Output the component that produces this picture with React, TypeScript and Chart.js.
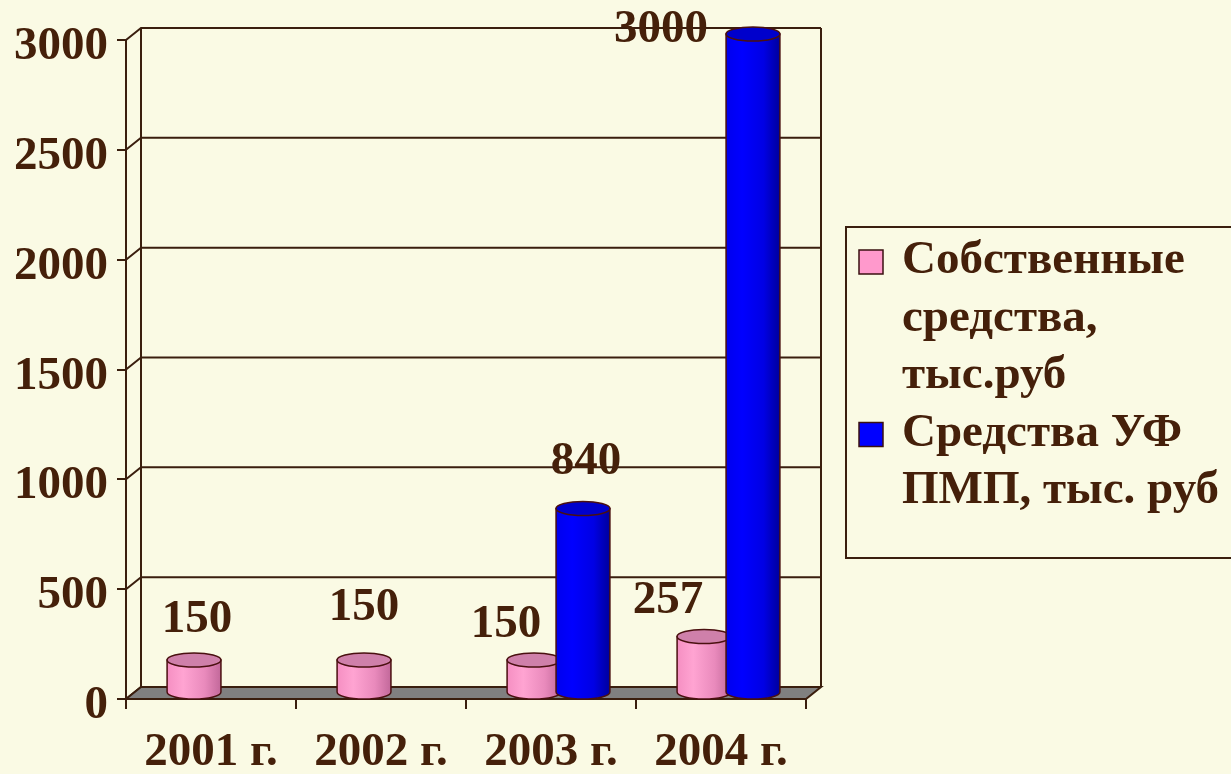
import React, { useEffect, useRef } from 'react';
import { Chart, registerables } from 'chart.js';

Chart.register(...registerables);

// ---------- data ----------
const categories = ['2001 г.', '2002 г.', '2003 г.', '2004 г.'];
const ownFunds: (number | null)[] = [150, 150, 150, 257];
const ufFunds: (number | null)[] = [null, null, 840, 3000];
const seriesNames = ['Собственные средства, тыс.руб', 'Средства УФ ПМП, тыс. руб'];
const legendLines = [
  ['Собственные', 'средства,', 'тыс.руб'],
  ['Средства УФ', 'ПМП, тыс. руб'],
];
const yMin = 0;
const yMax = 3000;
const yStep = 500;

// ---------- style ----------
const BG = '#FAFAE4';
const INK = '#45200A';
const LINE = '#3A1E0E';
const FONT_FAMILY = '"Liberation Serif", "Times New Roman", serif';
const FONT_SIZE = 47;
const DX = 15; // 3D depth offset
const DY = -12;
const seriesStyles = [
  { base: '#FF99CC', stops: ['#F58FC2', '#FFA4D2', '#E98ABC', '#C2689A'], cap: '#CF80AA' },
  { base: '#0000FF', stops: ['#0000EE', '#0000FF', '#0000E4', '#00009C'], cap: '#0000CC' },
];
// label placement relative to bar top (dx, baseline dy)
const labelOffsets = [
  [[3, -28], [0, -40], [-28, -23], [-36, -24]],
  [[0, 0], [0, 0], [3, -34], [-92, 8]],
];

function drawCylinder(ctx: CanvasRenderingContext2D, x: number, top: number, base: number, w: number, st: any) {
  const rx = w / 2;
  const ry = 7;
  const g = ctx.createLinearGradient(x - rx, 0, x + rx, 0);
  g.addColorStop(0, st.stops[0]);
  g.addColorStop(0.3, st.stops[1]);
  g.addColorStop(0.7, st.stops[2]);
  g.addColorStop(1, st.stops[3]);
  ctx.save();
  ctx.lineWidth = 1.5;
  ctx.strokeStyle = '#4A1010';
  ctx.beginPath();
  ctx.moveTo(x - rx, top);
  ctx.lineTo(x - rx, base);
  ctx.ellipse(x, base, rx, ry, 0, Math.PI, 0, true);
  ctx.lineTo(x + rx, top);
  ctx.closePath();
  ctx.fillStyle = g;
  ctx.fill();
  ctx.stroke();
  ctx.beginPath();
  ctx.ellipse(x, top, rx, ry, 0, 0, Math.PI * 2);
  ctx.fillStyle = st.cap;
  ctx.fill();
  ctx.stroke();
  ctx.restore();
}

const threeDPlugin = {
  id: 'threeD',
  beforeDraw(chart: any) {
    const ctx = chart.ctx;
    ctx.save();
    ctx.fillStyle = BG;
    ctx.fillRect(0, 0, chart.width, chart.height);
    ctx.restore();
  },
  beforeDatasetsDraw(chart: any) {
    const ctx = chart.ctx;
    const { left, right, bottom } = chart.chartArea;
    const ys = chart.scales.y;
    ctx.save();
    ctx.strokeStyle = LINE;
    ctx.lineWidth = 2;
    const yTop = ys.getPixelForValue(yMax);
    for (let v = yMin; v <= yMax; v += yStep) {
      const y = ys.getPixelForValue(v);
      ctx.beginPath();
      ctx.moveTo(left, y);
      ctx.lineTo(left + DX, y + DY);
      ctx.lineTo(right + DX, y + DY);
      ctx.stroke();
    }
    ctx.beginPath();
    ctx.moveTo(left + DX, yTop + DY);
    ctx.lineTo(left + DX, bottom + DY);
    ctx.moveTo(right + DX, yTop + DY);
    ctx.lineTo(right + DX, bottom + DY);
    ctx.stroke();
    // floor
    ctx.beginPath();
    ctx.moveTo(left, bottom);
    ctx.lineTo(right, bottom);
    ctx.lineTo(right + DX, bottom + DY);
    ctx.lineTo(left + DX, bottom + DY);
    ctx.closePath();
    ctx.fillStyle = '#808080';
    ctx.fill();
    ctx.stroke();
    ctx.restore();
    // shift bars to mid-depth
    ctx.save();
    ctx.translate(DX / 2, DY / 2);
  },
  afterDatasetsDraw(chart: any) {
    const ctx = chart.ctx;
    for (let d = 0; d < chart.data.datasets.length; d++) {
      const meta = chart.getDatasetMeta(d);
      meta.data.forEach((el: any, i: number) => {
        const v = chart.data.datasets[d].data[i];
        if (v === null || v === undefined) return;
        const p = el.getProps(['x', 'y', 'base', 'width'], true);
        drawCylinder(ctx, p.x, p.y, p.base, p.width, seriesStyles[d]);
      });
    }
    ctx.restore();
    // value labels
    ctx.save();
    ctx.font = `bold ${FONT_SIZE}px ${FONT_FAMILY}`;
    ctx.fillStyle = INK;
    ctx.textAlign = 'center';
    ctx.textBaseline = 'alphabetic';
    for (let d = 0; d < chart.data.datasets.length; d++) {
      const meta = chart.getDatasetMeta(d);
      meta.data.forEach((el: any, i: number) => {
        const v = chart.data.datasets[d].data[i];
        if (v === null || v === undefined) return;
        const p = el.getProps(['x', 'y'], true);
        const [ox, oy] = labelOffsets[d][i];
        ctx.fillText(String(v), p.x + DX / 2 + ox, p.y + DY / 2 + oy);
      });
    }
    ctx.restore();
  },
  afterDraw(chart: any) {
    const ctx = chart.ctx;
    ctx.save();
    ctx.strokeStyle = LINE;
    ctx.lineWidth = 2;
    ctx.strokeRect(846, 227, 420, 331);
    ctx.font = `bold ${FONT_SIZE}px ${FONT_FAMILY}`;
    ctx.textAlign = 'left';
    ctx.textBaseline = 'alphabetic';
    let baseline = 273;
    const step = 57.5;
    legendLines.forEach((lines, d) => {
      ctx.fillStyle = seriesStyles[d].base;
      ctx.fillRect(859, baseline - 23, 24, 24);
      ctx.lineWidth = 1.5;
      ctx.strokeStyle = '#3A1010';
      ctx.strokeRect(859, baseline - 23, 24, 24);
      ctx.fillStyle = INK;
      lines.forEach((ln) => {
        ctx.fillText(ln, 902, baseline);
        baseline += step;
      });
    });
    ctx.restore();
  },
};

export default function App() {
  const ref = useRef<HTMLCanvasElement | null>(null);
  useEffect(() => {
    if (!ref.current) return;
    const font = { family: FONT_FAMILY, size: FONT_SIZE, weight: 'bold' as const };
    const chart = new Chart(ref.current, {
      type: 'bar',
      data: {
        labels: categories,
        datasets: [
          { label: seriesNames[0], data: ownFunds, backgroundColor: seriesStyles[0].base, borderWidth: 0 },
          { label: seriesNames[1], data: ufFunds, backgroundColor: seriesStyles[1].base, borderWidth: 0 },
        ],
      },
      options: {
        responsive: false,
        animation: false,
        events: [],
        layout: { padding: { top: 40, right: 425, left: 0, bottom: 0 } },
        datasets: { bar: { categoryPercentage: 0.576, barPercentage: 1.1, clip: false } as any },
        plugins: { legend: { display: false }, tooltip: { enabled: false } },
        scales: {
          x: {
            offset: true,
            grid: {
              display: true,
              offset: true,
              drawOnChartArea: false,
              drawTicks: true,
              tickLength: 10,
              tickColor: LINE,
              tickWidth: 2,
              color: LINE,
              lineWidth: 2,
            },
            border: { display: true, color: LINE, width: 2 },
            ticks: { color: INK, font, padding: 16, autoSkip: false, maxRotation: 0 },
            afterFit: (s: any) => { s.height = 75; },
          },
          y: {
            min: yMin,
            max: yMax,
            grid: {
              display: true,
              drawOnChartArea: false,
              drawTicks: true,
              tickLength: 9,
              tickColor: LINE,
              tickWidth: 2,
              color: LINE,
              lineWidth: 2,
            },
            border: { display: true, color: LINE, width: 2 },
            ticks: {
              stepSize: yStep,
              color: INK,
              font,
              padding: 9,
              labelOffset: 7,
              callback: (v: any) => String(v),
            },
            afterFit: (s: any) => { s.width = 126; },
          },
        },
      },
      plugins: [threeDPlugin],
    });
    return () => chart.destroy();
  }, []);
  return (
    <div style={{ position: 'fixed', left: 0, top: 0, width: 1231, height: 774, background: BG }}>
      <canvas ref={ref} width={1231} height={774} style={{ display: 'block' }} />
    </div>
  );
}
